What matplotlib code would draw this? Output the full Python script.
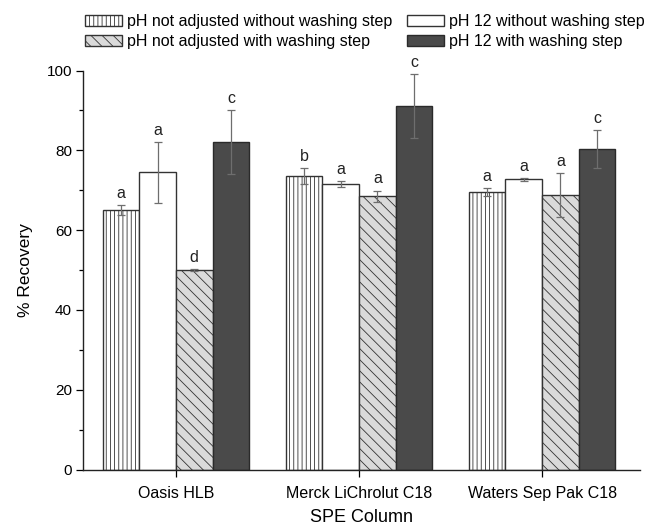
import matplotlib
matplotlib.use("Agg")
import matplotlib.pyplot as plt
import numpy as np
from matplotlib.ticker import MultipleLocator

plt.rcParams['font.family'] = ['Liberation Sans', 'DejaVu Sans']
plt.rcParams['hatch.linewidth'] = 0.6

columns = ["Oasis HLB", "Merck LiChrolut C18", "Waters Sep Pak C18"]
series_labels = [
    "pH not adjusted without washing step",
    "pH 12 without washing step",
    "pH not adjusted with washing step",
    "pH 12 with washing step",
]
noadj_nowash = [65.0, 73.6, 69.5]
noadj_nowash_err = [1.2, 2.0, 1.0]
ph12_nowash = [74.5, 71.5, 72.7]
ph12_nowash_err = [7.6, 0.8, 0.3]
noadj_wash = [50.0, 68.5, 68.8]
noadj_wash_err = [0.3, 1.4, 5.5]
ph12_wash = [82.0, 91.0, 80.3]
ph12_wash_err = [8.0, 8.0, 4.8]

letters_noadj_nowash = ["a", "b", "a"]
letters_ph12_nowash = ["a", "a", "a"]
letters_noadj_wash = ["d", "a", "a"]
letters_ph12_wash = ["c", "c", "c"]

values = [noadj_nowash, ph12_nowash, noadj_wash, ph12_wash]
errors = [noadj_nowash_err, ph12_nowash_err, noadj_wash_err, ph12_wash_err]
letters = [letters_noadj_nowash, letters_ph12_nowash, letters_noadj_wash, letters_ph12_wash]
styles = [
    dict(facecolor="white", hatch="||||", edgecolor="#333333"),
    dict(facecolor="white", hatch=None, edgecolor="#333333"),
    dict(facecolor="#dadada", hatch="\\\\\\", edgecolor="#333333"),
    dict(facecolor="#4a4a4a", hatch=None, edgecolor="#2a2a2a"),
]

fig = plt.figure(figsize=(6.46, 5.26), dpi=100)
ax = fig.add_axes([83/646, 1 - 469.5/526, 557/646, 399/526])

x = np.arange(1, len(columns) + 1)
width = 0.2
offsets = (np.arange(4) - 1.5) * width
handles = []
for i in range(4):
    bars = ax.bar(x + offsets[i], values[i], width, linewidth=1.0, zorder=2,
                  label=series_labels[i], **styles[i])
    handles.append(bars)
    ax.errorbar(x + offsets[i], values[i], yerr=errors[i], fmt="none",
                ecolor="#6e6e6e", elinewidth=0.9, capsize=3, capthick=0.9, zorder=3)
    for xi, v, e, t in zip(x + offsets[i], values[i], errors[i], letters[i]):
        ax.annotate(t, (xi, v + e), xytext=(0, 3), textcoords="offset points",
                    ha="center", va="bottom", fontsize=11.5, color="#222222")

ax.set_xlim(0.492, 3.535)
ax.set_ylim(0, 100)
ax.set_xticks(x)
ax.set_xticklabels(columns, fontsize=11.5)
ax.yaxis.set_major_locator(MultipleLocator(20))
ax.yaxis.set_minor_locator(MultipleLocator(10))
ax.tick_params(axis="y", which="major", direction="out", length=5, width=0.9,
               labelsize=11, pad=3)
ax.tick_params(axis="y", which="minor", direction="out", length=3, width=0.9)
ax.tick_params(axis="x", direction="out", length=5, width=0.9, pad=7)
for side in ("top", "right"):
    ax.spines[side].set_visible(False)
for side in ("left", "bottom"):
    ax.spines[side].set_linewidth(1.0)
    ax.spines[side].set_color("#222222")

ax.set_ylabel("% Recovery", fontsize=12.5, labelpad=10)
ax.set_xlabel("SPE Column", fontsize=13, labelpad=6)

legend_kw = dict(frameon=False, fontsize=11.5, handlelength=2.3, handleheight=0.75,
                 handletextpad=0.3, labelspacing=0.32, borderpad=0,
                 borderaxespad=0, loc="upper left")
leg1 = fig.legend([handles[0], handles[2]], [series_labels[0], series_labels[2]],
                  bbox_to_anchor=(85/646, 1 - 14/526), **legend_kw)
leg2 = fig.legend([handles[1], handles[3]], [series_labels[1], series_labels[3]],
                  bbox_to_anchor=(407/646, 1 - 14/526), **legend_kw)

fig.savefig("out.png", dpi=100)
